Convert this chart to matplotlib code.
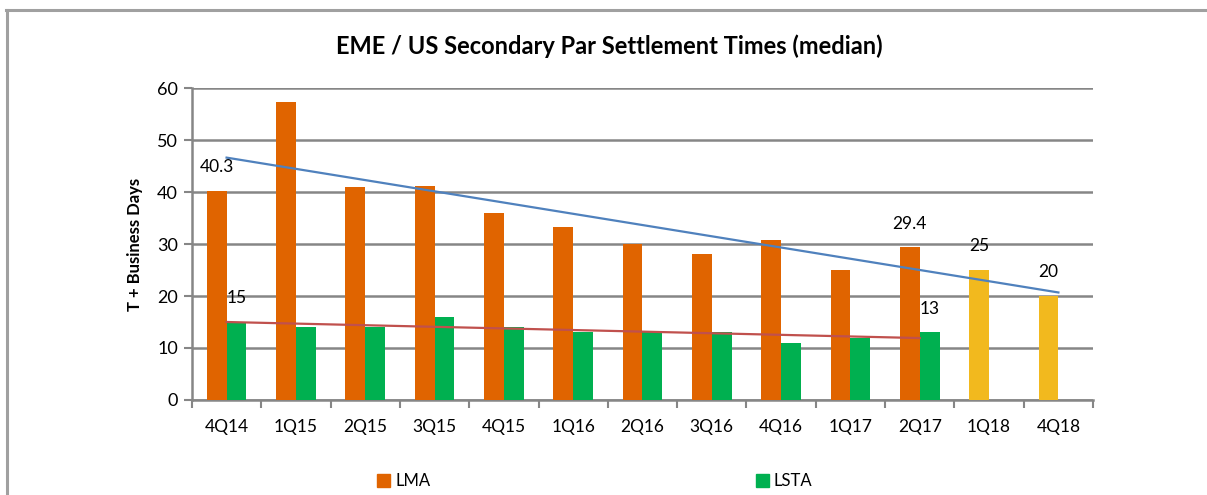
import matplotlib.pyplot as plt
import numpy as np
from matplotlib.lines import Line2D
from matplotlib.patches import Patch

# --- data ---
quarters = ['4Q14', '1Q15', '2Q15', '3Q15', '4Q15', '1Q16', '2Q16',
            '3Q16', '4Q16', '1Q17', '2Q17', '1Q18', '4Q18']
lma = [40.3, 57.3, 41, 41.2, 36, 33.2, 30.1, 28.1, 30.8, 25.1, 29.4, 25, 20]
lsta = [15, 14, 14, 16, 14, 13, 13, 13, 11, 12, 13]
n_actual = 11          # LMA values after this are targets (yellow)
lma_labels = [0, 10, 11, 12]
lsta_labels = [0, 10]

# --- styling ---
ORANGE = '#E06400'
GREEN = '#00B050'
YELLOW = '#F2B91E'
BLUE = '#4F81BD'
RED = '#C0504D'
GRID = '#868686'
plt.rcParams['font.family'] = ['Lato', 'DejaVu Sans']

fig = plt.figure(figsize=(12.07, 4.95), dpi=100)
ax = fig.add_axes([0.159, 0.192, 0.7466, 0.63])

x = np.arange(len(quarters))
w = 0.285
lma_colors = [ORANGE] * n_actual + [YELLOW] * (len(lma) - n_actual)
ax.bar(x - w / 2, lma, width=w, color=lma_colors, zorder=3)
ax.bar(x[:len(lsta)] + w / 2, lsta, width=w, color=GREEN, zorder=3)

# linear trendlines
xl = np.arange(len(lma))
k, b = np.polyfit(xl, lma, 1)
ax.plot([xl[0], xl[-1]], [k * xl[0] + b, k * xl[-1] + b], color=BLUE, lw=1.6, zorder=4)
xs = np.arange(len(lsta))
k2, b2 = np.polyfit(xs, lsta, 1)
ax.plot([xs[0], xs[-1]], [k2 * xs[0] + b2, k2 * xs[-1] + b2], color=RED, lw=1.6, zorder=4)

# data labels
for i in lma_labels:
    ax.annotate('%g' % lma[i], (x[i] - w / 2, lma[i]), xytext=(0, 17),
                textcoords='offset points', ha='center', va='center', fontsize=12.5)
for i in lsta_labels:
    ax.annotate('%g' % lsta[i], (x[i] + w / 2, lsta[i]), xytext=(0, 17),
                textcoords='offset points', ha='center', va='center', fontsize=12.5)

# axes
ax.set_xlim(-0.5, len(quarters) - 0.5)
ax.set_ylim(0, 60)
ax.set_yticks(range(0, 61, 10))
ax.set_xticks(x)
ax.set_xticklabels(quarters)
ax.set_xticks(np.arange(-0.5, len(quarters), 1), minor=True)
ax.tick_params(axis='x', which='major', length=0, pad=14, labelsize=12.5)
ax.tick_params(axis='x', which='minor', length=6, width=1.5, color=GRID)
ax.tick_params(axis='y', length=6, width=1.5, color=GRID, labelsize=13, pad=4)
ax.grid(axis='y', color=GRID, lw=1.8, zorder=0)
for s in ['top', 'right']:
    ax.spines[s].set_visible(False)
for s in ['left', 'bottom']:
    ax.spines[s].set_color(GRID)
    ax.spines[s].set_linewidth(1.8)
ax.set_ylabel('T + Business Days', fontsize=12, fontweight='bold', labelpad=10)

fig.suptitle('EME / US Secondary Par Settlement Times (median)',
             fontsize=17, fontweight='bold', x=0.505, y=0.93)

handles = [Patch(color=ORANGE, label='LMA'), Patch(color=GREEN, label='LSTA')]
fig.legend(handles=handles, loc='center left', bbox_to_anchor=(0.3, 0.028),
           ncol=2, frameon=False, fontsize=12, handlelength=0.8, handleheight=0.8,
           handletextpad=0.3, columnspacing=19.5)

# outer chart frame (cropped on right/bottom)
fig.add_artist(Line2D([6 / 1207, 1.0], [1 - 9.5 / 495] * 2, color='#A0A0A0', lw=2.2))
fig.add_artist(Line2D([7 / 1207] * 2, [0, 1 - 9.5 / 495], color='#A0A0A0', lw=2.2))

fig.savefig('out.png', dpi=100)
